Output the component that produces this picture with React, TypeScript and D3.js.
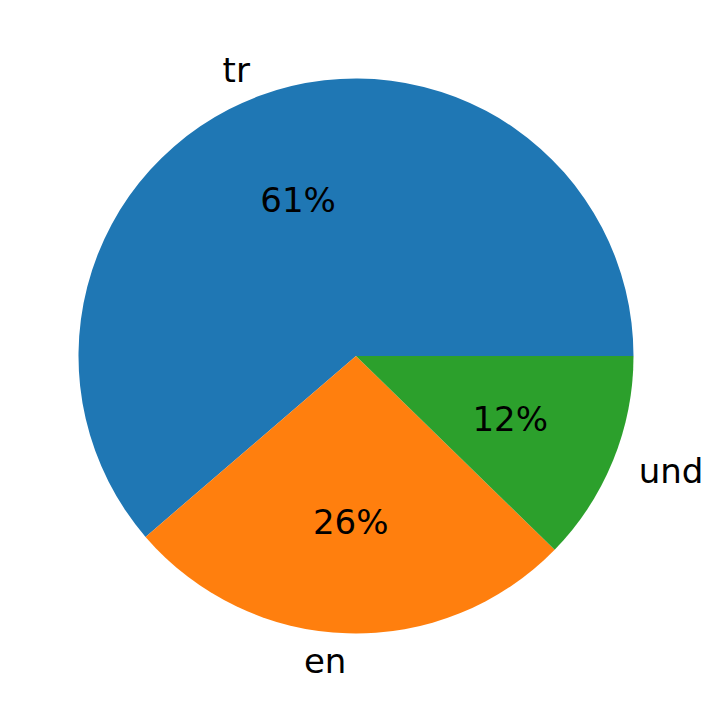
import React from 'react';
import * as d3 from 'd3';

const labels = ['tr', 'en', 'und'];
const values = [61.3, 26.4, 12.3];
const colors = ['#1f77b4', '#ff7f0e', '#2ca02c'];

const width = 714;
const height = 713;
const cx = 356;
const cy = 356;
const radius = 277.5;
const fontSize = 34;

const App: React.FC = () => {
  const total = d3.sum(values);
  // matplotlib style: start at 3 o'clock, go counterclockwise
  const angle = d3.scaleLinear().domain([0, total]).range([0, 2 * Math.PI]);
  let acc = 0;
  const slices = values.map((v, i) => {
    const a0 = angle(acc);
    acc += v;
    const a1 = angle(acc);
    return { i, a0, a1, v };
  });

  // convert math angle to d3 arc angle (clockwise from 12 o'clock)
  const toD3 = (a: number) => Math.PI / 2 - a;
  const arc = d3.arc<any>().innerRadius(0).outerRadius(radius);

  return (
    <svg width={width} height={height} style={{ display: 'block', position: 'absolute', left: 0, top: 0 }}>
      <rect width={width} height={height} fill="#fff" />
      <g transform={`translate(${cx},${cy})`}>
        {slices.map(s => (
          <path
            key={s.i}
            d={arc({ startAngle: toD3(s.a1), endAngle: toD3(s.a0) }) || ''}
            fill={colors[s.i]}
          />
        ))}
        {slices.map(s => {
          const mid = (s.a0 + s.a1) / 2;
          const lx = Math.cos(mid) * radius * 1.1;
          const ly = -Math.sin(mid) * radius * 1.1;
          const px = Math.cos(mid) * radius * 0.6;
          const py = -Math.sin(mid) * radius * 0.6;
          return (
            <g key={'t' + s.i} fontFamily="DejaVu Sans" fontSize={fontSize}>
              <text x={lx} y={ly} dy="0.35em" textAnchor={lx > 0 ? 'start' : 'end'} fill="#000">
                {labels[s.i]}
              </text>
              <text x={px} y={py} dy="0.35em" textAnchor="middle" fill="#000">
                {`${Math.round((s.v / total) * 100)}%`}
              </text>
            </g>
          );
        })}
      </g>
    </svg>
  );
};

export default App;
